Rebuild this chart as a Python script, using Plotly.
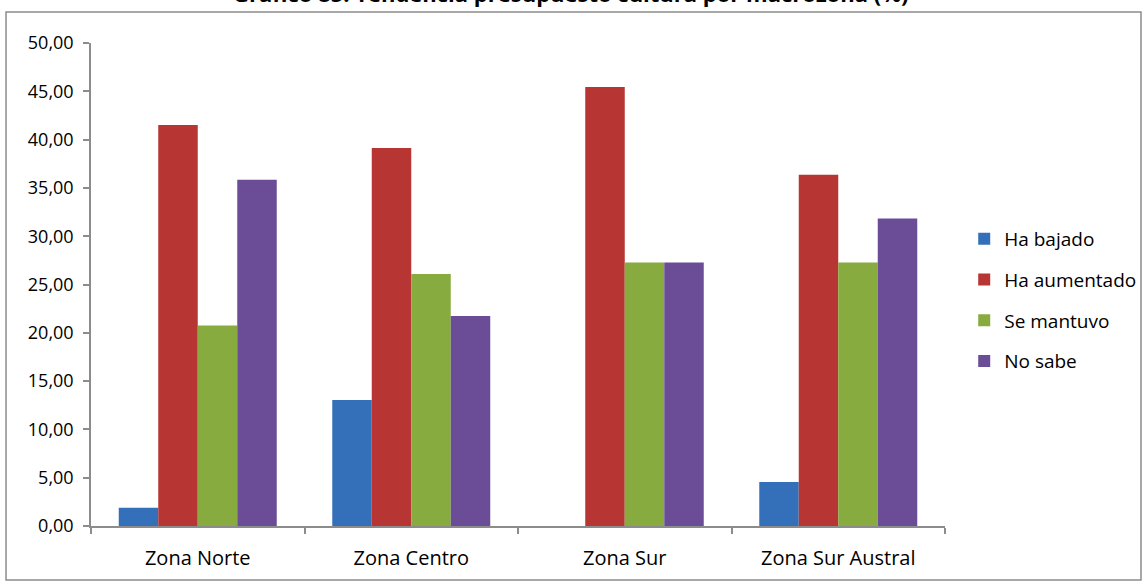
import plotly.graph_objects as go

# Gráfico 85 data (%)
zonas = ["Zona Norte", "Zona Centro", "Zona Sur", "Zona Sur Austral"]
ha_bajado = [1.89, 13.04, 0.0, 4.55]
ha_aumentado = [41.51, 39.13, 45.45, 36.36]
se_mantuvo = [20.75, 26.09, 27.27, 27.27]
no_sabe = [35.85, 21.74, 27.27, 31.82]

series = [
    ("Ha bajado", ha_bajado, "#3470BA"),
    ("Ha aumentado", ha_aumentado, "#B73532"),
    ("Se mantuvo", se_mantuvo, "#87AB3E"),
    ("No sabe", no_sabe, "#6A4C97"),
]

FONT = "Open Sans"

fig = go.Figure()
for i, (name, vals, color) in enumerate(series):
    fig.add_trace(go.Bar(
        x=zonas, y=vals, name=name, legendgroup=str(i),
        marker=dict(color=color, line=dict(width=0)),
    ))

fig.update_layout(
    width=1143, height=582,
    margin=dict(l=91, r=198, t=43, b=56, autoexpand=False),
    paper_bgcolor="white", plot_bgcolor="white",
    barmode="group", bargap=0.26, bargroupgap=0,
    separators=",.",
    font=dict(family=FONT, size=18, color="#000000"),
    legend=dict(
        x=1.0225, y=0.468, xanchor="left", yanchor="middle",
        traceorder="grouped", tracegroupgap=13,
        font=dict(family=FONT, size=19, color="#000000"),
        itemwidth=30, bgcolor="rgba(0,0,0,0)",
    ),
    showlegend=True,
)

fig.update_yaxes(
    range=[0, 50], dtick=5, tickformat=".2f",
    showgrid=False, zeroline=False,
    showline=True, linecolor="#8C8C8C", linewidth=1.5,
    ticks="outside", ticklen=6, tickcolor="#8C8C8C", tickwidth=1.5,
    ticklabelstandoff=6, tickfont=dict(size=18),
)
fig.update_xaxes(
    showgrid=False, showline=True, linecolor="#8C8C8C", linewidth=1.5,
    ticks="outside", tickson="boundaries", ticklen=6,
    tickcolor="#8C8C8C", tickwidth=1.5,
    ticklabelstandoff=13, tickfont=dict(size=20),
)

# outer chart frame
fig.add_shape(
    type="rect", xref="paper", yref="paper",
    x0=-0.0995, x1=1.2295, y0=-0.1118, y1=1.0642,
    line=dict(color="#8C8C8C", width=1.5), fillcolor="rgba(0,0,0,0)",
)

# title, cropped at the top of the image as in the source
fig.add_annotation(
    text="<b>Gráfico 85: Tendencia presupuesto cultura por macrozona (%)</b>",
    xref="paper", yref="paper", x=0.562, y=1.068,
    xanchor="center", yanchor="bottom", showarrow=False,
    font=dict(family=FONT, size=22, color="#000000"),
)

fig.write_html(
    "out.html",
    config={"displayModeBar": False},
    post_script="document.body.style.margin='0';",
)
